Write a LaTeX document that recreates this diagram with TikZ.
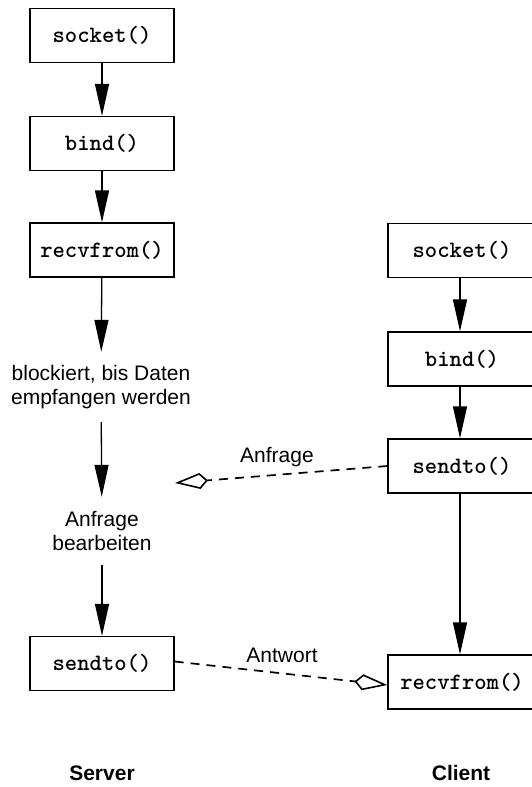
\documentclass[tikz,border=0pt]{standalone}
\usepackage{fontspec}
\setmainfont{Liberation Sans}
\usetikzlibrary{arrows.meta}
\begin{document}
\begin{tikzpicture}[x=1pt,y=-1pt,
  fn/.style={draw,line width=1.3pt,minimum width=144pt,minimum height=54pt,inner sep=0pt,
    font=\fontsize{23.5}{26}\selectfont\ttfamily\bfseries},
  fnr/.style={fn,minimum width=148pt},
  txt/.style={align=center,inner sep=0pt,font=\fontsize{21}{24.5}\selectfont},
  flow/.style={line width=1.3pt,-{Triangle[length=32pt,width=14pt]}},
  msg/.style={line width=1.7pt,dash pattern=on 9pt off 7pt,
    -{Kite[open,length=33pt,width=16pt,inset=8pt,line width=1.6pt]}},
  lbl/.style={inner sep=0pt,font=\fontsize{21}{24}\selectfont},
  side/.style={inner sep=0pt,font=\fontsize{21}{24}\selectfont\bfseries}]
\useasboundingbox (0,0) rectangle (531,787);
% server column
\node[fn] (s1) at (102,35.5) {socket()};
\node[fn] (s2) at (102,143.5) {bind()};
\node[fn] (s3) at (102,250) {recvfrom()};
\node[txt,minimum height=70pt] (s4) at (101,387) {blockiert, bis Daten\\empfangen werden};
\node[txt,minimum height=68pt] (s5) at (102,531) {Anfrage\\bearbeiten};
\node[fn] (s6) at (102,663.5) {sendto()};
% client column
\node[fnr] (c1) at (462,250.5) {socket()};
\node[fnr] (c2) at (462,359) {bind()};
\node[fnr] (c3) at (462,466) {sendto()};
\node[fnr] (c4) at (462,682) {recvfrom()};
\coordinate (tipA) at (175,483);
% flows
\draw[flow] (s1) -- (s2);
\draw[flow] (s2) -- (s3);
\draw[flow] (s3) -- (s4);
\draw[flow] (s4) -- (s5);
\draw[flow] (s5) -- (s6);
\draw[flow] ([xshift=-2pt]c1.south) -- ([xshift=-2pt]c2.north);
\draw[flow] ([xshift=-2pt]c2.south) -- ([xshift=-2pt]c3.north);
\draw[flow] ([xshift=-2pt]c3.south) -- ([xshift=-2pt]c4.north);
% messages
\draw[msg] (c3.west) -- (tipA);
\draw[msg] ([yshift=2pt]s6.east) -- ([yshift=-3pt]c4.west);
\node[lbl] (la) at (277,457) {Anfrage};
\node[lbl] (lb) at (282,655) {Antwort};
\node[side] (sv) at (102,773) {Server};
\node[side] (cl) at (461,773) {Client};
\end{tikzpicture}
\end{document}
